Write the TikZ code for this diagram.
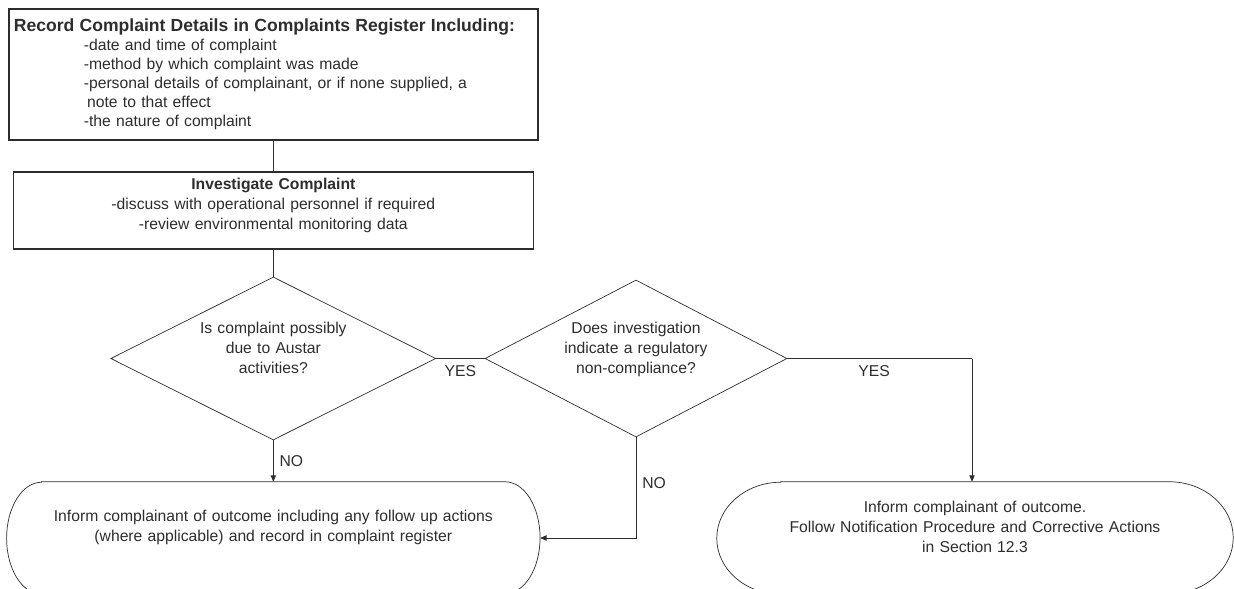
\documentclass[tikz,border=0pt]{standalone}
\usepackage{fontspec}
\setmainfont{Liberation Sans}
\usetikzlibrary{arrows.meta, shapes.geometric}
\definecolor{ink}{RGB}{45,45,45}

\begin{document}
\begin{tikzpicture}[
    every node/.style={font=\fontsize{13.4}{17}\selectfont, text=ink},
    stepbox/.style={draw=ink, line width=1.2pt, rectangle, inner sep=0.15cm},
    query/.style={draw=ink, line width=0.6pt, diamond, shape aspect=2, inner sep=0pt,
                  text width=4.6cm, align=center, text depth=1.83cm},
    outcome/.style={rectangle, inner sep=0pt, minimum height=3.36cm, align=center},
    shell/.style={draw=ink, line width=0.6pt},
    link/.style={draw=ink, line width=0.8pt},
    arr/.style={link, -{Triangle[length=5.5pt,width=4.5pt]}},
    tag/.style={inner sep=1pt}
]
    \useasboundingbox (0,0) rectangle (37.02,-17.67);
    % Register and investigation boxes
    \node[stepbox, minimum width=15.87cm, minimum height=3.93cm, text width=15.57cm, align=left,
          font=\fontsize{13.4}{16.2}\selectfont] (record) at (8.2,-2.235) {%
        {\fontsize{15}{16.2}\selectfont\bfseries Record Complaint Details in Complaints Register Including:}\\
        \hspace*{2.1cm}-date and time of complaint\\
        \hspace*{2.1cm}-method by which complaint was made\\
        \hspace*{2.1cm}-personal details of complainant, or if none supplied, a\\
        \hspace*{2.2cm}note to that effect\\
        \hspace*{2.1cm}-the nature of complaint};
    \node[stepbox, minimum width=15.6cm, minimum height=2.31cm, text width=15.3cm, align=center,
          text depth=1.6cm] (investigate) at (8.2,-6.315) {%
        \textbf{Investigate Complaint}\\
        -discuss with operational personnel if required\\
        -review environmental monitoring data};
    % Decisions
    \node[query, minimum width=9.75cm, minimum height=4.89cm] (austar) at (8.2,-10.755) {%
        Is complaint possibly\\ due to Austar\\ activities?};
    \node[query, minimum width=9.06cm, minimum height=4.71cm] (regulatory) at (19.08,-10.755) {%
        Does investigation\\ indicate a regulatory\\ non-compliance?};
    % Outcomes
    \node[outcome, minimum width=15.99cm, text width=13.5cm, text depth=1.32cm] (informA) at (8.2,-16.14) {%
        Inform complainant of outcome including any follow up actions\\
        (where applicable) and record in complaint register};
    \node[outcome, minimum width=15.48cm, text width=12cm, text depth=1.85cm] (notify) at (29.25,-16.14) {%
        Inform complainant of outcome.\\
        Follow Notification Procedure and Corrective Actions\\
        in Section 12.3};
    \foreach \n/\r in {informA/1.05cm, notify/1.92cm}
        \draw[shell] ([xshift=\r]\n.north west) -- ([xshift=-\r]\n.north east)
            arc[start angle=90, end angle=-90, x radius=\r, y radius=1.68cm]
            -- ([xshift=\r]\n.south west)
            arc[start angle=270, end angle=90, x radius=\r, y radius=1.68cm] -- cycle;
    \coordinate (yesturn) at (29.16,-10.755);
    % Connectors
    \draw[link] (record) -- (investigate);
    \draw[link] (investigate) -- (austar);
    \draw[arr] (austar) -- node[tag, right=4pt]{NO} (informA);
    \draw[link, line width=1.2pt] (austar) -- node[tag, below=4pt]{YES} (regulatory);
    \draw[link, line width=1.2pt] (regulatory) -- node[tag, below=4pt, pos=0.47]{YES} (yesturn);
    \draw[arr] (yesturn) -- (yesturn |- notify.north);
    \draw[arr] (regulatory) |- node[tag, right=4pt, pos=0.225]{NO} (informA);
\end{tikzpicture}
\end{document}
